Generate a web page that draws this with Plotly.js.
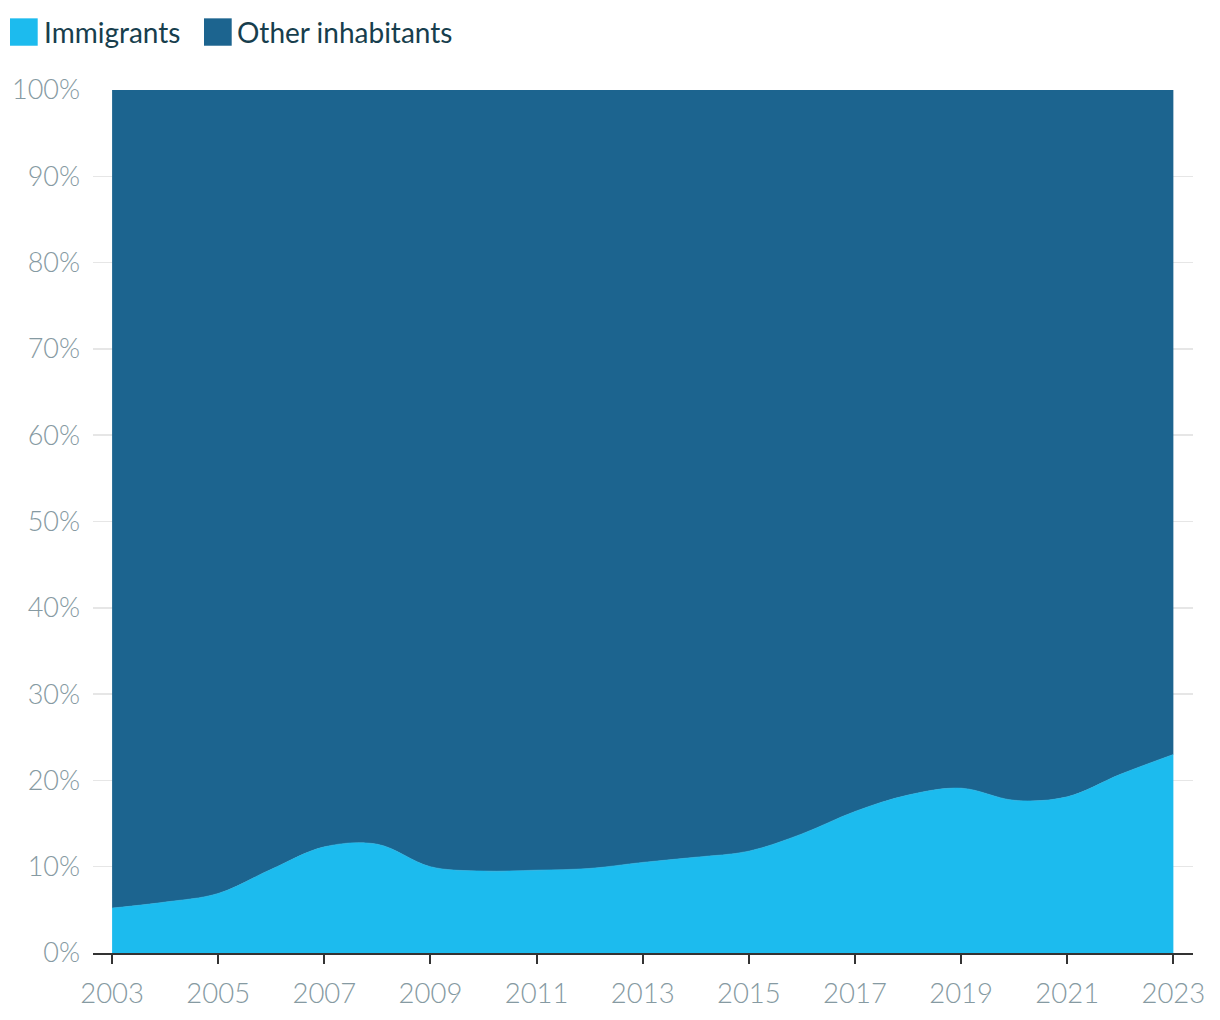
<!DOCTYPE html>
<html>
<head>
<meta charset="utf-8">
<script src="https://cdn.plot.ly/plotly-3.0.1.min.js"></script>
<style>html,body{margin:0;padding:0;background:#fff;}#chart{width:1220px;height:1020px;}</style>
</head>
<body>
<div id="chart"></div>
<script>
const years = [2003,2004,2005,2006,2007,2008,2009,2010,2011,2012,2013,2014,2015,2016,2017,2018,2019,2020,2021,2022,2023];
const immigrants = [5.2,5.9,6.9,9.7,12.3,12.6,10.0,9.5,9.6,9.8,10.5,11.1,11.8,13.8,16.4,18.3,19.1,17.7,18.1,20.7,23.0];
const otherInhabitants = immigrants.map(v => 100 - v);
const seriesNames = ['Immigrants', 'Other inhabitants'];
const seriesColors = ['#1cbbee', '#1c648f'];
const xTickVals = [2003,2005,2007,2009,2011,2013,2015,2017,2019,2021,2023];
const yTickVals = [0,10,20,30,40,50,60,70,80,90,100];
const yTickText = yTickVals.map(v => v + '%');

const traces = [
  {x: years, y: immigrants, name: seriesNames[0], type: 'scatter', mode: 'lines',
   stackgroup: 'one', line: {shape: 'spline', smoothing: 1, width: 0.6, color: seriesColors[0]},
   fillcolor: seriesColors[0], hoverinfo: 'skip', showlegend: false},
  {x: years, y: otherInhabitants, name: seriesNames[1], type: 'scatter', mode: 'lines',
   stackgroup: 'one', line: {shape: 'spline', smoothing: 1, width: 0, color: seriesColors[1]},
   fillcolor: seriesColors[1], hoverinfo: 'skip', showlegend: false}
];

const tickFont = {family: 'Lato, sans-serif', size: 27, color: '#869aa2', weight: 300};
const plotL = 93, plotW = 1100, plotB = 953.5, plotH = 863.5;
const px = v => (v - plotL) / plotW;
const py = v => (plotB - v) / plotH;

const layout = {
  width: 1220, height: 1020,
  margin: {l: 93, r: 27, t: 90, b: 66.5},
  paper_bgcolor: '#ffffff', plot_bgcolor: '#ffffff',
  showlegend: false,
  xaxis: {
    range: [2002.64, 2023.37], tickvals: xTickVals, ticktext: xTickVals.map(String),
    showgrid: false, zeroline: false, showline: true, linecolor: '#333333', linewidth: 2,
    ticks: 'outside', ticklen: 9, tickwidth: 2, tickcolor: '#333333',
    tickfont: Object.assign({}, tickFont, {size: 27.5}), ticklabelstandoff: 6, fixedrange: true
  },
  yaxis: {
    range: [0, 100], tickvals: yTickVals, ticktext: yTickText,
    showgrid: true, gridcolor: '#e6e6e6', gridwidth: 1.5, zeroline: false, showline: false,
    ticks: '', tickfont: tickFont, ticklabelstandoff: 12, fixedrange: true
  },
  shapes: [
    {type: 'rect', xref: 'paper', yref: 'paper', x0: px(10), x1: px(37.7), y0: py(45.7), y1: py(18.3),
     fillcolor: seriesColors[0], line: {width: 0}},
    {type: 'rect', xref: 'paper', yref: 'paper', x0: px(204), x1: px(231.7), y0: py(45.7), y1: py(18.3),
     fillcolor: seriesColors[1], line: {width: 0}}
  ],
  annotations: [
    {text: seriesNames[0], xref: 'paper', yref: 'paper', x: px(42), y: py(32), xanchor: 'left', yanchor: 'middle',
     showarrow: false, font: {family: 'Lato, sans-serif', size: 28, color: '#173e4d'}},
    {text: seriesNames[1], xref: 'paper', yref: 'paper', x: px(235), y: py(32), xanchor: 'left', yanchor: 'middle',
     showarrow: false, font: {family: 'Lato, sans-serif', size: 28, color: '#173e4d'}}
  ]
};

Plotly.newPlot('chart', traces, layout, {displayModeBar: false, staticPlot: true});
</script>
</body>
</html>
